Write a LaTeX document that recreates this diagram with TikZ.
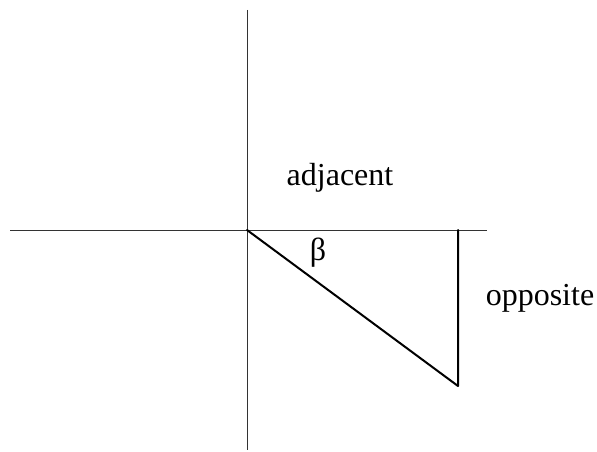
\documentclass[tikz,border=0pt]{standalone}
\usepackage{fontspec}
\setmainfont{Liberation Serif}
\begin{document}
\begin{tikzpicture}[x=1pt,y=-1pt,
  axis/.style={line width=1pt,draw=black!80},
  tri/.style={line width=2pt,line cap=round,line join=round},
  lbl/.style={font=\fontsize{32}{36}\selectfont,inner sep=0pt}]
\useasboundingbox (0,0) rectangle (597,452);
\coordinate (top) at (247,10);
\coordinate (bot) at (247,450);
\coordinate (left) at (10,230);
\coordinate (right) at (487,230);
\coordinate (O) at (247,230);
\coordinate (A) at (458,230);
\coordinate (B) at (458,386);
\draw[axis] (top) -- (bot);
\draw[axis] (left) -- (right);
\draw[tri] (O) -- (B) -- (A);
\node[lbl] (adj) at (340,178) {adjacent};
\node[lbl] (opp) at (540,298) {opposite};
\node[lbl] (beta) at (318,253) {β};
\end{tikzpicture}
\end{document}
